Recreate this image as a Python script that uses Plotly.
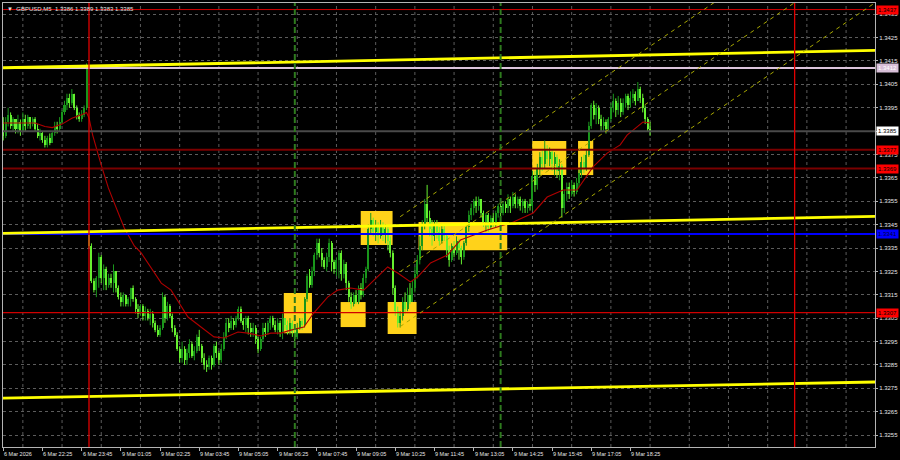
import plotly.graph_objects as go

# ---------------- data (prices in pips: price = 1 + v / 10000) ----------------
# one M5 bar per index; index 0 = 6 Mar 21:05, index 35 = 9 Mar 00:00
opens = [
 3389,3383,3389,3392,3387,3390,3386,3389,3385,3390,3387,3391,3388,3390,3386,3383,
 3384,3381,3379,3382,3380,3384,3387,3386,3389,3393,3396,3399,3397,3401,3395,3392,
 3390,3392,3395,3341,3336,3321,3317,3322,3331,3322,3326,3319,3322,3320,3325,3318,
 3314,3312,3315,3311,3313,3318,3313,3309,3307,3310,3306,3308,3305,3307,3303,3300,
 3298,3301,3314,3305,3310,3306,3301,3298,3292,3288,3292,3287,3290,3294,3289,3291,
 3297,3293,3288,3285,3284,3288,3285,3293,3290,3287,3292,3297,3303,3301,3304,3302,
 3305,3309,3304,3302,3305,3301,3299,3301,3296,3292,3296,3301,3299,3303,3305,3302,
 3300,3303,3299,3305,3302,3300,3303,3299,3297,3301,3304,3302,3313,3323,3319,3325,
 3332,3337,3333,3330,3327,3331,3337,3329,3326,3330,3333,3324,3328,3320,3314,3311,
 3315,3312,3318,3315,3322,3326,3343,3347,3342,3345,3340,3344,3341,3343,3338,3333,
 3318,3308,3303,3306,3312,3309,3315,3312,3318,3324,3330,3336,3345,3354,3348,3343,
 3340,3345,3342,3338,3343,3340,3334,3330,3336,3333,3338,3335,3331,3337,3344,3349,
 3352,3355,3353,3356,3350,3346,3349,3344,3348,3345,3350,3353,3350,3354,3352,3356,
 3353,3357,3354,3356,3353,3355,3352,3354,3353,3366,3362,3369,3374,3371,3377,3373,
 3376,3371,3374,3368,3370,3352,3358,3361,3358,3362,3359,3363,3367,3372,3369,3375,
 3387,3396,3392,3395,3390,3387,3389,3386,3390,3395,3398,3394,3397,3393,3397,3400,
 3396,3399,3401,3398,3403,3399,3395,3390,3386]
highs = [
 3391,3391,3395,3393,3391,3390,3392,3390,3393,3392,3392,3391,3391,3391,3388,3386,
 3385,3383,3383,3384,3385,3389,3389,3391,3394,3398,3401,3401,3403,3401,3396,3393,
 3394,3396,3414,3342,3337,3322,3323,3333,3332,3328,3327,3324,3324,3328,3325,3319,
 3316,3316,3315,3314,3318,3319,3314,3311,3311,3311,3310,3309,3309,3308,3304,3302,
 3302,3316,3315,3312,3311,3307,3302,3299,3293,3295,3293,3292,3296,3295,3293,3298,
 3300,3294,3290,3287,3289,3289,3294,3295,3291,3294,3299,3305,3305,3306,3305,3306,
 3310,3310,3305,3306,3306,3303,3303,3302,3297,3297,3303,3303,3304,3306,3306,3304,
 3305,3304,3307,3305,3304,3305,3304,3300,3303,3305,3305,3314,3324,3326,3327,3333,
 3339,3339,3335,3331,3333,3339,3338,3330,3331,3334,3334,3330,3329,3321,3316,3316,
 3317,3319,3320,3324,3327,3345,3350,3348,3347,3346,3347,3346,3345,3344,3340,3334,
 3319,3310,3308,3314,3316,3318,3320,3321,3327,3332,3340,3347,3356,3362,3351,3347,
 3347,3347,3344,3345,3345,3341,3336,3337,3338,3340,3339,3336,3338,3345,3351,3354,
 3356,3357,3357,3356,3351,3350,3350,3349,3350,3351,3354,3354,3355,3355,3358,3357,
 3359,3358,3357,3357,3356,3356,3355,3356,3368,3368,3371,3376,3377,3381,3379,3378,
 3377,3376,3375,3373,3371,3360,3363,3363,3364,3363,3365,3369,3374,3375,3377,3389,
 3397,3398,3397,3396,3392,3391,3390,3391,3397,3401,3399,3400,3399,3399,3401,3401,
 3402,3403,3402,3406,3404,3401,3396,3391,3389]
lows = [
 3381,3382,3387,3386,3385,3384,3384,3383,3385,3385,3386,3386,3387,3385,3382,3381,
 3380,3378,3378,3379,3380,3383,3384,3385,3388,3392,3394,3395,3396,3394,3390,3389,
 3389,3391,3394,3335,3320,3316,3314,3318,3320,3317,3317,3318,3318,3316,3316,3313,
 3310,3310,3310,3310,3310,3312,3307,3305,3306,3304,3304,3304,3302,3301,3299,3297,
 3297,3300,3303,3304,3305,3299,3297,3291,3286,3286,3285,3285,3288,3288,3287,3290,
 3291,3286,3283,3282,3283,3283,3284,3288,3285,3286,3291,3296,3299,3300,3300,3301,
 3304,3303,3300,3299,3298,3297,3297,3294,3290,3291,3295,3297,3298,3300,3301,3299,
 3298,3297,3296,3300,3298,3298,3297,3295,3296,3300,3300,3301,3312,3318,3318,3323,
 3330,3331,3327,3326,3325,3329,3325,3324,3323,3322,3321,3322,3317,3312,3309,3310,
 3311,3311,3313,3314,3320,3325,3341,3340,3338,3337,3339,3338,3337,3334,3331,3315,
 3306,3301,3301,3304,3307,3308,3311,3312,3316,3322,3328,3334,3343,3346,3340,3336,
 3338,3339,3336,3337,3338,3331,3327,3329,3331,3332,3330,3328,3330,3336,3342,3347,
 3349,3350,3351,3348,3344,3342,3342,3343,3344,3344,3348,3348,3349,3350,3350,3350,
 3352,3352,3352,3351,3350,3350,3350,3351,3351,3359,3360,3366,3368,3369,3370,3370,
 3368,3366,3365,3364,3348,3350,3355,3356,3357,3357,3358,3361,3365,3367,3368,3374,
 3386,3390,3388,3388,3385,3385,3384,3385,3389,3393,3391,3392,3391,3392,3395,3394,
 3395,3397,3396,3398,3397,3393,3388,3385,3383]
closes = [
 3383,3389,3392,3387,3390,3386,3389,3385,3390,3387,3391,3388,3390,3386,3383,3384,
 3381,3379,3382,3380,3384,3387,3386,3389,3393,3396,3399,3397,3401,3395,3392,3390,
 3392,3395,3413,3336,3321,3317,3322,3331,3322,3326,3319,3322,3320,3325,3318,3314,
 3312,3315,3311,3313,3318,3313,3309,3307,3310,3306,3308,3305,3307,3303,3300,3298,
 3301,3314,3305,3310,3306,3301,3298,3292,3288,3292,3287,3290,3294,3289,3291,3297,
 3293,3288,3285,3284,3288,3285,3293,3290,3287,3292,3297,3303,3301,3304,3302,3305,
 3309,3304,3302,3305,3301,3299,3301,3296,3292,3296,3301,3299,3303,3305,3302,3300,
 3303,3299,3305,3302,3300,3303,3299,3297,3301,3304,3302,3313,3323,3319,3325,3332,
 3337,3333,3330,3327,3331,3337,3329,3326,3330,3333,3324,3328,3320,3314,3311,3315,
 3312,3318,3315,3322,3326,3343,3347,3342,3345,3340,3344,3341,3343,3338,3333,3318,
 3308,3303,3306,3312,3309,3315,3312,3318,3324,3330,3336,3345,3354,3348,3343,3340,
 3345,3342,3338,3343,3340,3334,3330,3336,3333,3338,3335,3331,3337,3344,3349,3352,
 3355,3353,3356,3350,3346,3349,3344,3348,3345,3350,3353,3350,3354,3352,3356,3353,
 3357,3354,3356,3353,3355,3352,3354,3353,3366,3362,3369,3374,3371,3377,3373,3376,
 3371,3374,3368,3370,3352,3358,3361,3358,3362,3359,3363,3367,3372,3369,3375,3387,
 3396,3392,3395,3390,3387,3389,3386,3390,3395,3398,3394,3397,3393,3397,3400,3396,
 3399,3401,3398,3403,3399,3395,3390,3386,3385]

# moving average: bar index / value in pips
ma_index = [0, 13, 17, 20, 24, 28, 32, 34, 35, 36.5, 40, 42.9, 45.3, 48.2, 49.4, 53.5,
            56.3, 64.5, 68.5, 75.4, 80.7, 86, 90.1, 95.8, 99.9, 105.2, 109.2, 113.3,
            117.4, 122.7, 126.7, 132.4, 136.5, 141.8, 147.1, 152.8, 156.9, 161, 166.2,
            169.1, 174.4, 181.3, 186.6, 197.6, 208.2, 216.3, 222, 228.5, 234.2, 240.7,
            246.5, 251.8, 254.6, 258.7, 261.1, 264]
ma_value = [3388.5, 3388.5, 3387, 3386.5, 3388, 3390.5, 3392, 3393, 3390.6, 3383.3, 3370.5,
            3360.7, 3354.3, 3347.0, 3343.6, 3335.9, 3332.9, 3320.0, 3317.0, 3305.5, 3301.2,
            3297.0, 3296.5, 3299.1, 3298.6, 3297.4, 3298.6, 3298.6, 3299.9, 3301.2, 3307.2,
            3314.0, 3317.0, 3317.9, 3317.0, 3322.6, 3326.9, 3324.3, 3320.5, 3322.6, 3328.6,
            3332.0, 3338.4, 3342.7, 3346.1, 3350.0, 3356.8, 3359.8, 3359.8, 3369.7, 3375.6,
            3379.1, 3383.3, 3386.8, 3388.9, 3388.5]

tick_index = [0, 16, 32, 48, 64, 80, 96, 112, 128, 144, 160, 176, 192, 208, 224, 240, 256]
tick_labels = ["6 Mar 2026", "6 Mar 22:25", "6 Mar 23:45", "9 Mar 01:05", "9 Mar 02:25",
               "9 Mar 03:45", "9 Mar 05:05", "9 Mar 06:25", "9 Mar 07:45", "9 Mar 09:05",
               "9 Mar 10:25", "9 Mar 11:45", "9 Mar 13:05", "9 Mar 14:25", "9 Mar 15:45",
               "9 Mar 17:05", "9 Mar 18:25"]
grid_index = [8, 24, 40, 56, 72, 88, 104, 120, 136, 152, 168, 184, 200, 216, 232, 248,
              264, 280, 296, 312, 328, 344]
price_ticks = [1.3255, 1.3265, 1.3275, 1.3285, 1.3295, 1.3305, 1.3315, 1.3325, 1.3335,
               1.3345, 1.3355, 1.3365, 1.3375, 1.3385, 1.3395, 1.3405, 1.3415, 1.3425, 1.3435]

level_prices = [1.3437, 1.3412, 1.3385, 1.3377, 1.3369, 1.3341, 1.33074]
level_labels = ["1.3437", "1.3412", "1.3385", "1.3377", "1.3369", "1.3341", "1.3307"]

day_separators = [35, 323]
session_marks = [119, 203]

# trend lines: pips at left edge / right edge
trend_left = [3412.1, 3341.3, 3270.8]
trend_right = [3419.5, 3348.5, 3277.7]

# regression channel: start/end bar, middle-line pips, half width in pips
chan_index = [162, 355.8]
chan_mid = [3324.9, 3463.4]
chan_half = 23.5

# signal boxes: bar from, bar to, low pips, high pips
box_from = [114.5, 137.7, 145.9, 156.9, 169.5, 215.9, 234.6]
box_to = [126.0, 147.9, 158.9, 168.7, 205.7, 229.8, 240.8]
box_low = [3298.6, 3301.2, 3336.3, 3298.2, 3334.1, 3366.2, 3366.2]
box_high = [3315.8, 3311.9, 3350.8, 3311.9, 3346.1, 3380.8, 3380.8]

title_text = "GBPUSD,M5  1.3386 1.3389 1.3383 1.3385"

# ---------------- helpers ----------------
def px(v):
    return 1 + v / 10000.0

X_RANGE = [-0.1, 355.8]
Y_RANGE = [1.32499, 1.34398]

BULL = "#1a961c"
BEAR = "#66f030"
GRID = "#5c5c5c"
FRAME = "#b4b4b4"
FONT = "Liberation Sans, Arial, sans-serif"

fig = go.Figure()

# candles: wicks + bodies
for is_bull, col in [(True, BULL), (False, BEAR)]:
    wx, wy = [], []
    bx, bb, bh = [], [], []
    for i in range(len(closes)):
        o, h, l, c = opens[i], highs[i], lows[i], closes[i]
        if (c >= o) != is_bull:
            continue
        wx += [i, i, None]
        wy += [px(l), px(h), None]
        lo_b = min(o, c)
        hi_b = max(o, c)
        bx.append(i)
        bb.append(px(lo_b))
        bh.append(max(px(hi_b) - px(lo_b), 0.00004))
    fig.add_trace(go.Scatter(x=wx, y=wy, mode="lines", line=dict(color=col, width=1),
                             hoverinfo="skip", showlegend=False))
    fig.add_trace(go.Bar(x=bx, y=bh, base=bb, width=0.82, marker=dict(color=col, line=dict(width=0)),
                         hoverinfo="skip", showlegend=False))

# moving average
fig.add_trace(go.Scatter(x=ma_index, y=[px(v) for v in ma_value], mode="lines",
                         line=dict(color="#b00000", width=1.1), hoverinfo="skip", showlegend=False))

shapes = []
# vertical grid
for g in grid_index:
    shapes.append(dict(type="line", xref="x", yref="paper", x0=g, x1=g, y0=0, y1=1,
                       line=dict(color=GRID, width=1, dash="3px,3px"), layer="below"))
# boxes
for a, b, lo, hi in zip(box_from, box_to, box_low, box_high):
    shapes.append(dict(type="rect", xref="x", yref="y", x0=a, x1=b, y0=px(lo), y1=px(hi),
                       fillcolor="#ffd21a", line=dict(width=0), layer="between"))
# horizontal levels
level_styles = [("#d00000", 1), ("#dcc4dc", 2), ("#4a4a4a", 2), ("#7a0000", 2),
                ("#7a0000", 2), ("#0000ff", 2.2), ("#d00000", 1.3)]
for p, (col, w) in zip(level_prices, level_styles):
    shapes.append(dict(type="line", xref="paper", yref="y", x0=0, x1=1, y0=p, y1=p,
                       line=dict(color=col, width=w), layer="above"))
# trend lines
for lft, rgt in zip(trend_left, trend_right):
    shapes.append(dict(type="line", xref="x", yref="y", x0=X_RANGE[0], x1=X_RANGE[1],
                       y0=px(lft), y1=px(rgt), line=dict(color="#ffff00", width=2.8), layer="above"))
# channel
for off in (-chan_half, 0, chan_half):
    shapes.append(dict(type="line", xref="x", yref="y", x0=chan_index[0], x1=chan_index[1],
                       y0=px(chan_mid[0] + off), y1=px(chan_mid[1] + off),
                       line=dict(color="#a8a800", width=1, dash="4px,4px"), layer="above"))
# vertical markers
for d in day_separators:
    shapes.append(dict(type="line", xref="x", yref="paper", x0=d, x1=d, y0=0, y1=1,
                       line=dict(color="#e00000", width=1.3), layer="above"))
for s in session_marks:
    shapes.append(dict(type="line", xref="x", yref="paper", x0=s, x1=s, y0=0, y1=1,
                       line=dict(color="#2e7a1e", width=2, dash="6px,3px"), layer="above"))

annotations = []
# time labels
for t, lab in zip(tick_index, tick_labels):
    annotations.append(dict(x=t, xref="x", y=0, yref="paper", text=lab, showarrow=False,
                            xanchor="left", yanchor="top", yshift=-2, xshift=-1,
                            font=dict(family=FONT, size=5.5, color="#e6e6e6")))
# price boxes on the right
box_styles = [("#ff0000", "#000000"), ("#d8bfd8", "#ffffff"), ("#ffffff", "#000000"),
              ("#ff0000", "#000000"), ("#ff0000", "#000000"), ("#0000ff", "#000040"),
              ("#ff0000", "#000000")]
for p, lab, (bg, fc) in zip(level_prices, level_labels, box_styles):
    annotations.append(dict(x=1, xref="paper", y=p, yref="y", text=lab, showarrow=False,
                            xanchor="left", yanchor="middle", xshift=1, bgcolor=bg,
                            borderpad=1, font=dict(family=FONT, size=6, color=fc)))
# title
annotations.append(dict(x=0, xref="paper", y=1, yref="paper", text="\u25bc  " + title_text,
                        showarrow=False, xanchor="left", yanchor="top", xshift=2, yshift=-1,
                        font=dict(family=FONT, size=6, color="#e0e0e0")))

fig.update_layout(
    width=900, height=460,
    margin=dict(l=2, r=24, t=3, b=13, pad=0),
    paper_bgcolor="#000000", plot_bgcolor="rgba(0,0,0,0)",
    showlegend=False, bargap=0,
    shapes=shapes, annotations=annotations,
    xaxis=dict(range=X_RANGE, showgrid=False, zeroline=False, tickmode="array",
               tickvals=tick_index, showticklabels=False, ticks="outside", ticklen=3,
               tickcolor=FRAME, showline=True, linecolor=FRAME, linewidth=1, mirror=True,
               fixedrange=True),
    yaxis=dict(range=Y_RANGE, side="right", tickmode="array", tickvals=price_ticks,
               ticktext=["%.4f" % v for v in price_ticks], ticks="outside", ticklen=2,
               tickcolor=FRAME, tickfont=dict(family=FONT, size=6, color="#e6e6e6"),
               showgrid=True, gridcolor=GRID, gridwidth=1, griddash="3px,3px",
               zeroline=False, showline=True, linecolor=FRAME, linewidth=1, mirror=True,
               fixedrange=True),
)

fig.write_html("out.html", config={"displayModeBar": False},
               post_script="document.body.style.margin='0';document.body.style.background='#000';")
